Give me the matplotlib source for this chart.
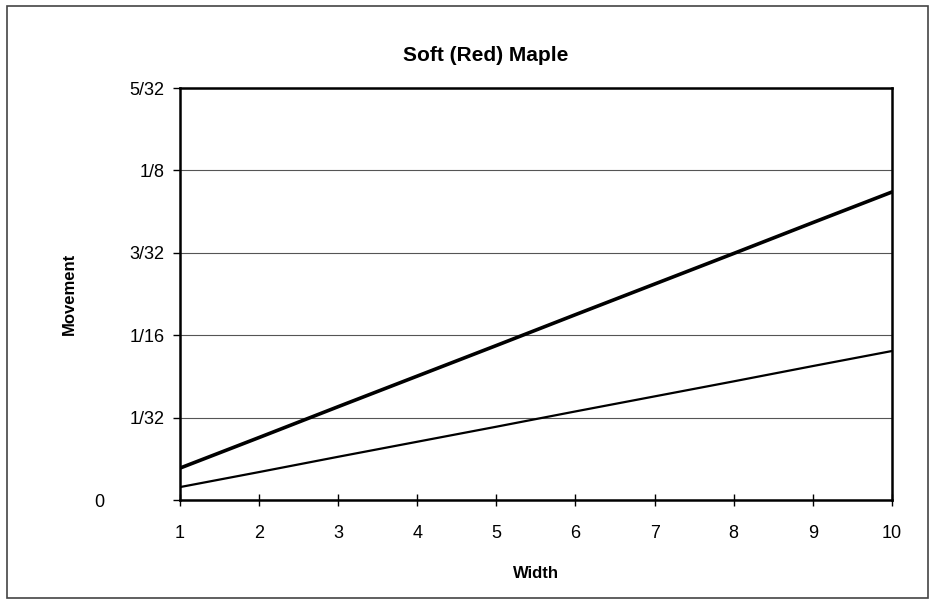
import numpy as np
import matplotlib.pyplot as plt
from matplotlib.patches import Rectangle

plt.rcParams['font.family'] = 'Liberation Sans'

width = [1, 2, 3, 4, 5, 6, 7, 8, 9, 10]
# movement in inches
move_thick = [0.0121, 0.0237, 0.0354, 0.0470, 0.0586, 0.0703, 0.0819, 0.0935, 0.1052, 0.1168]
move_thin = [0.0049, 0.0106, 0.0164, 0.0221, 0.0278, 0.0336, 0.0393, 0.0450, 0.0508, 0.0565]
ytick_vals = [0, 1/32, 1/16, 3/32, 1/8, 5/32]
ytick_labels = ['0', '1/32', '1/16', '3/32', '1/8', '5/32']

fig = plt.figure(figsize=(9.3, 6.02), dpi=100)
ax = fig.add_axes([0.1935, 0.1694, 0.7655, 0.6844])

ax.plot(width, move_thick, color='black', lw=2.6)
ax.plot(width, move_thin, color='black', lw=1.6)

ax.set_xlim(1, 10)
ax.set_ylim(0, 5/32)
ax.set_xticks(width)
ax.set_yticks(ytick_vals)
ax.set_yticklabels(ytick_labels)
ax.tick_params(axis='x', direction='inout', length=8, width=1, labelsize=13, pad=14)
ax.tick_params(axis='y', direction='out', length=5, width=1, labelsize=13, pad=6)
# the zero label sits further left in the original
ax.get_yticklabels()[0].set_x(-0.085)

ax.yaxis.grid(True, color='#555555', lw=0.8)
for s in ax.spines.values():
    s.set_linewidth(1.8)

fig.text(0.522, 0.908, 'Soft (Red) Maple', fontsize=15, fontweight='bold',
         ha='center', va='center')
ax.set_xlabel('Width', fontsize=12, fontweight='bold')
ax.xaxis.set_label_coords(0.5, -0.16)
ax.set_ylabel('Movement', fontsize=12, fontweight='bold')
ax.yaxis.set_label_coords(-0.145, 0.5)

fig.patches.append(Rectangle((0.008, 0.006), 0.99, 0.984, transform=fig.transFigure,
                             fill=False, edgecolor='#444444', lw=1.2))

fig.savefig('out.png', dpi=100)
